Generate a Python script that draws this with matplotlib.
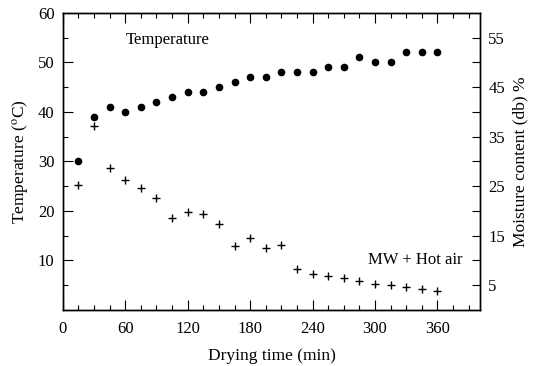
import matplotlib.pyplot as plt
from matplotlib.ticker import MultipleLocator, FixedLocator

plt.rcParams['font.family'] = ['Liberation Serif', 'DejaVu Serif']
plt.rcParams['mathtext.fontset'] = 'stix'

time_min = [15, 30, 45, 60, 75, 90, 105, 120, 135, 150, 165, 180,
            195, 210, 225, 240, 255, 270, 285, 300, 315, 330, 345, 360]
temperature = [30, 39, 41, 40, 41, 42, 43, 44, 44, 45, 46, 47,
               47, 48, 48, 48, 49, 49, 51, 50, 50, 52, 52, 52]
moisture = [25.2, 37.1, 28.6, 26.2, 24.6, 22.6, 18.5, 19.7, 19.3, 17.4, 13.0, 14.6,
            12.6, 13.1, 8.2, 7.3, 6.9, 6.4, 5.8, 5.3, 5.0, 4.7, 4.2, 3.9]

fig = plt.figure(figsize=(5.37, 3.66), dpi=100)
ax = fig.add_axes([0.117, 0.153, 0.777, 0.812])
ax2 = ax.twinx()

ax.plot(time_min, temperature, 'o', color='black', ms=4.5, ls='none')
ax2.plot(time_min, moisture, '+', color='black', ms=5.5, mew=1.0, ls='none')

ax.set_xlim(0, 401)
ax.set_ylim(0, 60)
ax2.set_ylim(0, 60)

ax.xaxis.set_major_locator(MultipleLocator(60))
ax.xaxis.set_minor_locator(MultipleLocator(15))
ax.yaxis.set_major_locator(FixedLocator([10, 20, 30, 40, 50, 60]))
ax.yaxis.set_minor_locator(MultipleLocator(5))
ax2.yaxis.set_major_locator(FixedLocator([5, 15, 25, 35, 45, 55]))
ax2.yaxis.set_minor_locator(FixedLocator([10, 20, 30, 40, 50]))

ax.tick_params(which='major', direction='in', length=7, width=0.8, top=True, labelsize=12)
ax.tick_params(which='minor', direction='in', length=3.5, width=0.8, top=True)
ax.tick_params(axis='x', which='major', pad=8)
ax.tick_params(axis='y', which='major', pad=6)
ax.tick_params(axis='y', which='both', right=False)
ax2.tick_params(which='both', direction='in', length=6, width=0.8, labelsize=12, pad=6)

for a in (ax, ax2):
    for s in a.spines.values():
        s.set_linewidth(1.0)

ax.set_xlabel('Drying time (min)', fontsize=12.5, labelpad=8)
ax.set_ylabel(r'Temperature ($^{\mathrm{o}}$C)', fontsize=12.5, labelpad=5)
ax2.set_ylabel('Moisture content (db) %', fontsize=12.5, labelpad=5)

ax.text(60, 54.6, 'Temperature', fontsize=12, va='center', ha='left')
ax.text(384, 10, 'MW + Hot air', fontsize=12, va='center', ha='right')

fig.savefig('out.png', dpi=100)
